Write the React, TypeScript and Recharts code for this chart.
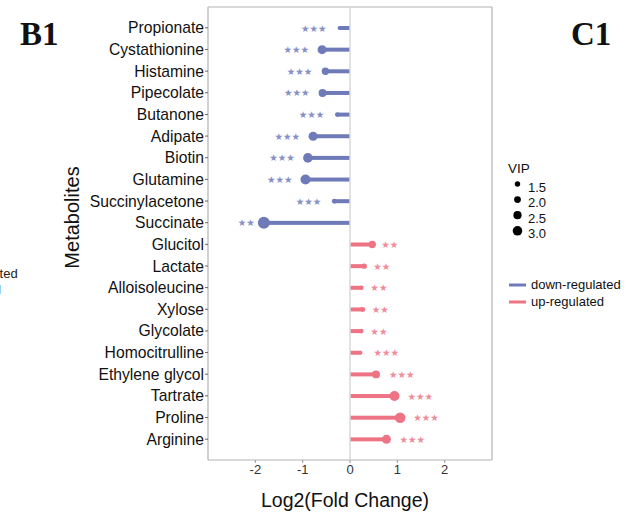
import React from 'react';
import {
  ComposedChart,
  Bar,
  XAxis,
  YAxis,
  CartesianGrid,
  ReferenceLine,
  Label,
} from 'recharts';

// Differential metabolites, top to bottom
const metabolites = [
  'Propionate',
  'Cystathionine',
  'Histamine',
  'Pipecolate',
  'Butanone',
  'Adipate',
  'Biotin',
  'Glutamine',
  'Succinylacetone',
  'Succinate',
  'Glucitol',
  'Lactate',
  'Alloisoleucine',
  'Xylose',
  'Glycolate',
  'Homocitrulline',
  'Ethylene glycol',
  'Tartrate',
  'Proline',
  'Arginine',
];

// log2 fold change per metabolite
const log2FoldChange = [
  -0.22, -0.59, -0.52, -0.58, -0.27, -0.78, -0.89, -0.94, -0.33, -1.82,
  0.47, 0.3, 0.24, 0.27, 0.24, 0.22, 0.55, 0.94, 1.06, 0.77,
];

// VIP score per metabolite (dot size)
const vipScores = [
  1.0, 2.8, 2.2, 2.4, 1.2, 2.8, 3.0, 3.15, 1.35, 3.85,
  2.2, 1.5, 1.2, 1.35, 1.2, 1.0, 2.4, 3.15, 3.35, 2.8,
];

// significance marks per metabolite
const significance = [
  '***', '***', '***', '***', '***', '***', '***', '***', '***', '**',
  '**', '**', '**', '**', '**', '***', '***', '***', '***', '***',
];

const xTicks = [-2, -1, 0, 1, 2];
const vipBreaks = [1.5, 2.0, 2.5, 3.0];
const regulationLabels = ['down-regulated', 'up-regulated'];

const DOWN = '#6f7ab8';
const UP = '#ee7485';
const DOWN_STAR = '#8891c6';
const UP_STAR = '#f18d9b';
const FONT = '"Liberation Sans", Arial, Helvetica, sans-serif';

const vipRadius = (v: number) => 2.7 + (v - 1.5) * 1.4;

const rows = metabolites.map((name, i) => ({
  name,
  fc: log2FoldChange[i],
  vip: vipScores[i],
  sig: significance[i],
}));

// Stick from zero to the fold change, dot sized by VIP, stars beyond the dot
function Lollipop(props: any) {
  const { x, y, width, height, payload } = props;
  const down = payload.fc < 0;
  const left = Math.min(x, x + width);
  const right = Math.max(x, x + width);
  const endX = down ? left : right;
  const cy = y + height / 2;
  const r = vipRadius(payload.vip);
  const color = down ? DOWN : UP;
  const gap = payload.sig.length === 3 ? 13 : 9;
  return (
    <g>
      <rect x={left} y={cy - 2} width={right - left} height={4} fill={color} />
      <circle cx={endX} cy={cy} r={r} fill={color} />
      <text
        x={down ? endX - gap : endX + gap}
        y={cy}
        textAnchor={down ? 'end' : 'start'}
        dominantBaseline="central"
        fontSize={9.5}
        fontFamily="DejaVu Sans"
        fill={down ? DOWN_STAR : UP_STAR}
      >
        {payload.sig.replace(/\*/g, '★')}
      </text>
    </g>
  );
}

const frameX = (p: any) => [p.offset.left, p.offset.left + p.offset.width];
const frameY = (p: any) => [p.offset.top, p.offset.top + p.offset.height];

export default function App() {
  return (
    <div style={{ position: 'absolute', left: 0, top: 0, width: 630, height: 516, background: '#fff' }}>
      <ComposedChart
        width={630}
        height={516}
        data={rows}
        layout="vertical"
        margin={{ top: 7, right: 138, bottom: 0, left: 0 }}
      >
        <CartesianGrid
          stroke="#b3b3b3"
          strokeWidth={1.2}
          horizontalCoordinatesGenerator={frameY}
          verticalCoordinatesGenerator={frameX}
        />
        <ReferenceLine x={0} stroke="#d8d8d8" strokeWidth={1.5} />
        <XAxis
          type="number"
          dataKey="fc"
          domain={[-3, 3]}
          ticks={xTicks}
          height={56}
          axisLine={false}
          tickSize={3}
          tickMargin={2}
          tickLine={{ stroke: '#999' }}
          tick={{ fontSize: 13, fill: '#333', fontFamily: FONT }}
        >
          <Label
            content={(p: any) => {
              const vb = p.viewBox;
              return (
                <text
                  x={vb.x + vb.width / 2 - 5}
                  y={vb.y + 47}
                  textAnchor="middle"
                  fontSize={19.5}
                  fontFamily={FONT}
                  fill="#111"
                >
                  Log2(Fold Change)
                </text>
              );
            }}
          />
        </XAxis>
        <YAxis
          type="category"
          dataKey="name"
          width={208}
          padding={{ top: 10, bottom: 10 }}
          axisLine={false}
          tickSize={3}
          tickMargin={1}
          tickLine={{ stroke: '#666' }}
          tick={{ fontSize: 15.7, fill: '#111', fontFamily: FONT }}
          interval={0}
        >
          <Label
            content={(p: any) => {
              const vb = p.viewBox;
              const cx = vb.x + 72;
              const cy = vb.y + vb.height / 2 - 16;
              return (
                <text
                  x={cx}
                  y={cy}
                  transform={`rotate(-90 ${cx} ${cy})`}
                  textAnchor="middle"
                  dominantBaseline="central"
                  fontSize={20}
                  fontFamily={FONT}
                  fill="#111"
                >
                  Metabolites
                </text>
              );
            }}
          />
        </YAxis>
        <Bar dataKey="fc" barSize={4} shape={Lollipop} isAnimationActive={false} />
      </ComposedChart>

      <svg
        width={630}
        height={516}
        style={{ position: 'absolute', left: 0, top: 0, pointerEvents: 'none', overflow: 'hidden' }}
      >
        {/* panel letters */}
        <text x={20} y={45} fontSize={33} fontWeight="bold" fontFamily='"Liberation Serif", "Times New Roman", serif' fill="#111">
          B1
        </text>
        <text x={571} y={45} fontSize={33} fontWeight="bold" fontFamily='"Liberation Serif", "Times New Roman", serif' fill="#111">
          C1
        </text>

        {/* neighbouring panel legend text, cut at the edge */}
        {regulationLabels.map((t, i) => (
          <text key={t} x={-72} y={273 + i * 16} dominantBaseline="central" fontSize={13} fontFamily={FONT} fill="#222">
            {t}
          </text>
        ))}

        {/* VIP size legend */}
        <text x={508} y={173} fontSize={13.5} fontFamily={FONT} fill="#111">
          VIP
        </text>
        {vipBreaks.map((v, i) => (
          <g key={v}>
            <circle cx={517.5} cy={184 + i * 15.6} r={vipRadius(v)} fill="#000" />
            <text x={528} y={187 + i * 15.6} dominantBaseline="central" fontSize={13} fontFamily={FONT} fill="#111">
              {v.toFixed(1)}
            </text>
          </g>
        ))}

        {/* regulation colour legend */}
        {regulationLabels.map((t, i) => (
          <g key={t}>
            <line x1={509} x2={526} y1={285 + i * 17} y2={285 + i * 17} stroke={i === 0 ? DOWN : UP} strokeWidth={3} />
            <text x={531} y={284 + i * 17} dominantBaseline="central" fontSize={13} fontFamily={FONT} fill="#111">
              {t}
            </text>
          </g>
        ))}
      </svg>
    </div>
  );
}
